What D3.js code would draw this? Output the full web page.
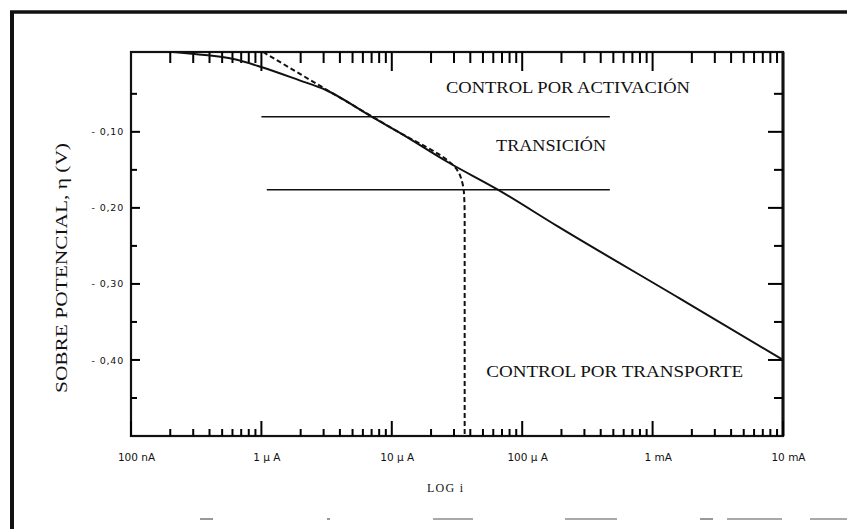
<!DOCTYPE html>
<html>
<head>
<meta charset="utf-8">
<script src="https://cdn.jsdelivr.net/npm/d3@7"></script>
<style>
  body { margin: 0; background: #fff; }
  svg { display: block; }
  .tick text { fill: #111; }
</style>
</head>
<body>
<div id="chart"></div>
<script>
// current (A) on a log axis, overpotential (V) on a linear axis
const currentDomain = [1e-7, 1e-2];
const etaDomain = [0.005, -0.5];

const xMajorTicks = [1e-7, 1e-6, 1e-5, 1e-4, 1e-3, 1e-2];
const xTickLabels = ["100 nA", "1 \u00b5 A", "10 \u00b5 A", "100 \u00b5 A", "1 mA", "10 mA"];
const etaMajorTicks = [-0.1, -0.2, -0.3, -0.4];
const etaTickLabels = ["- 0,10", "- 0,20", "- 0,30", "- 0,40"];
const etaMinorTicks = [-0.05, -0.15, -0.25, -0.35, -0.45];

// measured curve (solid)
const measuredCurrent = [2.1e-7, 3.2e-7, 4.2e-7, 6.0e-7, 1.01e-6, 1.94e-6, 3.12e-6, 7.0e-6, 1.12e-5, 2.7e-5, 6.5e-5, 1.86e-4, 1.61e-3, 1e-2];
const measuredEta     = [0.005, 0.002, 0.000, -0.004, -0.015, -0.032, -0.045, -0.080, -0.100, -0.140, -0.176, -0.224, -0.319, -0.400];

// curve with mass transport limit (dashed)
const limitedCurrent = [1.03e-6, 3.12e-6, 1.12e-5, 2.7e-5, 3.0e-5, 3.27e-5, 3.45e-5, 3.57e-5, 3.62e-5, 3.62e-5];
const limitedEta     = [0.005, -0.044, -0.100, -0.138, -0.145, -0.154, -0.165, -0.179, -0.209, -0.500];

// region boundaries
const boundaryEta   = [-0.080, -0.176];
const boundaryStart = [1.0e-6, 1.1e-6];
const boundaryEnd   = [4.7e-4, 4.7e-4];

// region labels: text, left current, baseline eta, width
const regionText    = ["CONTROL POR ACTIVACI\u00d3N", "TRANSICI\u00d3N", "CONTROL POR  TRANSPORTE"];
const regionCurrent = [2.6e-5, 6.3e-5, 5.3e-5];
const regionEta     = [-0.049, -0.125, -0.422];
const regionWidth   = [244, 110, 257];

const width = 847, height = 529;
const margin = { top: 52, right: 60, bottom: 93, left: 131 };

const svg = d3.select("#chart").append("svg")
    .attr("width", width)
    .attr("height", height);

svg.append("rect").attr("width", width).attr("height", height).attr("fill", "#fff");

const x = d3.scaleLog().domain(currentDomain).range([margin.left, width - margin.right - 4]);
const y = d3.scaleLinear().domain(etaDomain).range([margin.top, height - margin.bottom]);

// minor log ticks for each decade
const xMinorTicks = [];
for (let d = -7; d < -2; d++) {
    for (let k = 2; k <= 9; k++) xMinorTicks.push(k * Math.pow(10, d));
}

const plotLeft = x.range()[0], plotRight = x.range()[1];
const plotTop = y.range()[0], plotBottom = y.range()[1];

// outer frame of the scanned page
svg.append("line").attr("x1", 10).attr("x2", width).attr("y1", 12).attr("y2", 12)
    .attr("stroke", "#111").attr("stroke-width", 3.5);
svg.append("line").attr("x1", 12).attr("x2", 12).attr("y1", 11).attr("y2", height)
    .attr("stroke", "#111").attr("stroke-width", 4);
const bottomFragments = [[200, 213], [327, 330], [433, 473], [565, 617], [700, 713], [727, 782], [810, 847]];
svg.selectAll(".frag").data(bottomFragments).enter().append("line")
    .attr("x1", d => d[0]).attr("x2", d => d[1])
    .attr("y1", 519).attr("y2", 519)
    .attr("stroke", "#555").attr("stroke-width", 1.2);

// plot box
svg.append("rect")
    .attr("x", plotLeft).attr("y", plotTop)
    .attr("width", plotRight - plotLeft).attr("height", plotBottom - plotTop)
    .attr("fill", "none").attr("stroke", "#111").attr("stroke-width", 2.2);
svg.append("line").attr("x1", plotRight).attr("x2", plotRight).attr("y1", plotTop).attr("y2", plotBottom)
    .attr("stroke", "#111").attr("stroke-width", 3);

// tick marks, all pointing into the plot
function hTicks(values, yPos, len) {
    svg.append("g").selectAll("line").data(values).enter().append("line")
        .attr("stroke", "#000").attr("stroke-width", 2)
        .attr("x1", d => x(d)).attr("x2", d => x(d))
        .attr("y1", yPos).attr("y2", yPos + len);
}
function vTicks(values, xPos, len) {
    svg.append("g").selectAll("line").data(values).enter().append("line")
        .attr("stroke", "#000").attr("stroke-width", 2)
        .attr("x1", xPos).attr("x2", xPos + len)
        .attr("y1", d => y(d)).attr("y2", d => y(d));
}

hTicks(xMinorTicks, plotBottom, -7);
hTicks(xMajorTicks, plotBottom, -15);
hTicks(xMinorTicks, plotTop, 11);
hTicks(xMajorTicks.slice(1, -1), plotTop, 19);
vTicks(etaMinorTicks, plotLeft, 6);
vTicks(etaMajorTicks, plotLeft, 9);
vTicks(etaMinorTicks, plotRight, -9);
vTicks(etaMajorTicks, plotRight, -15);

// tick labels via d3 axes (no tick lines)
svg.append("g").attr("transform", `translate(0,${plotBottom})`)
    .call(d3.axisBottom(x).tickValues(xMajorTicks).tickSize(0).tickPadding(18)
        .tickFormat((d, i) => xTickLabels[i]))
    .call(g => g.select(".domain").remove())
    .call(g => g.selectAll("text")
        .attr("dx", 5)
        .style("font-family", "'DejaVu Sans', sans-serif")
        .style("font-size", "10.5px"));

svg.append("g").attr("transform", `translate(${plotLeft},0)`)
    .call(d3.axisLeft(y).tickValues(etaMajorTicks).tickSize(0).tickPadding(7)
        .tickFormat((d, i) => etaTickLabels[i]))
    .call(g => g.select(".domain").remove())
    .call(g => g.selectAll("text")
        .style("font-family", "'DejaVu Sans', sans-serif")
        .style("font-size", "9.5px")
        .style("letter-spacing", "0.8px"));

// region boundaries
svg.selectAll(".boundary").data(boundaryEta).enter().append("line")
    .attr("class", "boundary")
    .attr("x1", (d, i) => x(boundaryStart[i]))
    .attr("x2", (d, i) => x(boundaryEnd[i]))
    .attr("y1", d => y(d)).attr("y2", d => y(d))
    .attr("stroke", "#111").attr("stroke-width", 1.5);

// curves
const measured = measuredCurrent.map((c, i) => [c, measuredEta[i]]);
const limited = limitedCurrent.map((c, i) => [c, limitedEta[i]]);

svg.append("path")
    .datum(limited)
    .attr("d", d3.line().x(d => x(d[0])).y(d => y(d[1])).curve(d3.curveMonotoneY))
    .attr("fill", "none")
    .attr("stroke", "#111")
    .attr("stroke-width", 2)
    .attr("stroke-dasharray", "5,3");

svg.append("path")
    .datum(measured)
    .attr("d", d3.line().x(d => x(d[0])).y(d => y(d[1])).curve(d3.curveMonotoneX))
    .attr("fill", "none")
    .attr("stroke", "#111")
    .attr("stroke-width", 2);

// region labels
svg.selectAll(".region").data(regionText).enter().append("text")
    .attr("class", "region")
    .attr("x", (d, i) => x(regionCurrent[i]))
    .attr("y", (d, i) => y(regionEta[i]))
    .attr("textLength", (d, i) => regionWidth[i])
    .attr("lengthAdjust", "spacingAndGlyphs")
    .style("font-family", "'Liberation Serif', serif")
    .style("font-size", "17px")
    .attr("fill", "#111")
    .text(d => d);

// axis titles
svg.append("text")
    .attr("transform", "translate(67,268) rotate(-90)")
    .attr("text-anchor", "middle")
    .attr("textLength", 250)
    .attr("lengthAdjust", "spacingAndGlyphs")
    .style("font-family", "'Liberation Serif', serif")
    .style("font-size", "17px")
    .attr("fill", "#111")
    .text("SOBRE POTENCIAL,  \u03b7  (V)");

svg.append("text")
    .attr("x", 445).attr("y", 492)
    .attr("text-anchor", "middle")
    .attr("textLength", 36)
    .style("font-family", "'Liberation Serif', serif")
    .style("font-size", "12px")
    .attr("fill", "#111")
    .text("LOG  i");
</script>
</body>
</html>
